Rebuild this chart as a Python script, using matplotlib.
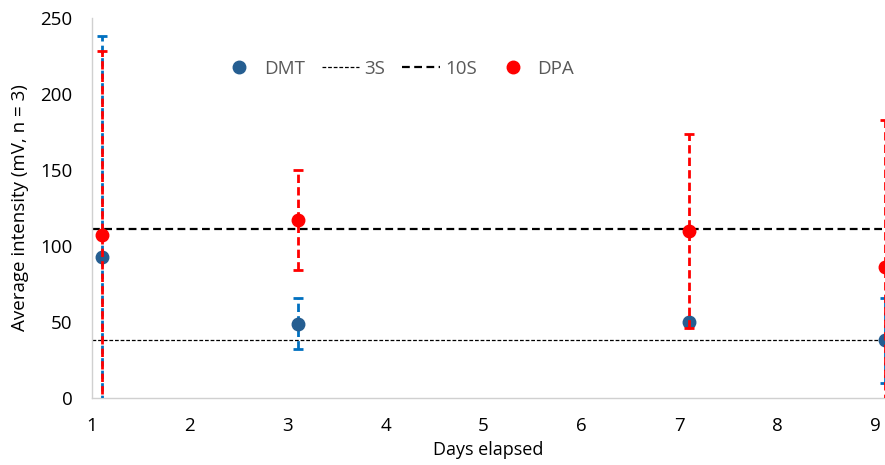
import matplotlib.pyplot as plt
from matplotlib.lines import Line2D

# days elapsed (points offset slightly from whole days as in the original)
days = [1.1, 3.1, 7.1, 9.1]

dmt_mean = [93, 49, 50, 38]
dmt_err = [145, 16.5, 1, 28]

dpa_mean = [107, 117, 110, 86]
dpa_err = [121, 33, 64, 97]

limit_3s = 38
limit_10s = 111

plt.rcParams['font.family'] = ['Open Sans', 'DejaVu Sans']

fig = plt.figure(figsize=(8.85, 4.65), dpi=100)
ax = fig.add_axes([92 / 885, 1 - 398 / 465, 1 - 92 / 885, 380 / 465])

# threshold lines
ax.axhline(limit_3s, color='black', linestyle=(0, (3, 1.5)), linewidth=0.9, zorder=1)
ax.axhline(limit_10s, color='black', linestyle=(0, (3.5, 2)), linewidth=1.6, zorder=1)

eb1 = ax.errorbar(days, dmt_mean, yerr=dmt_err, fmt='o', color='#255E91',
                  ecolor='#0070C0', elinewidth=2, capsize=3.5, capthick=2,
                  markersize=9, zorder=3)
eb1[2][0].set_linestyle((0, (3, 1.5)))

eb2 = ax.errorbar(days, dpa_mean, yerr=dpa_err, fmt='o', color='#FF0000',
                  ecolor='#FF0000', elinewidth=2, capsize=3.5, capthick=2,
                  markersize=9, zorder=4)
eb2[2][0].set_linestyle((0, (3, 1.5)))

ax.set_xlim(1, 9.1)
ax.set_ylim(0, 250)
ax.set_xticks(range(1, 10))
ax.set_yticks(range(0, 251, 50))
ax.tick_params(length=0, labelsize=13.5)
ax.tick_params(axis='y', pad=14)
ax.tick_params(axis='x', pad=14)

for s in ['top', 'right']:
    ax.spines[s].set_visible(False)
for s in ['left', 'bottom']:
    ax.spines[s].set_color('#D0D0D0')
    ax.spines[s].set_linewidth(1)

ax.set_xlabel('Days elapsed', fontsize=13, labelpad=4)
ax.set_ylabel('Average intensity (mV, n = 3)', fontsize=13.5, labelpad=8)

handles = [
    Line2D([], [], marker='o', linestyle='none', color='#255E91', markersize=9),
    Line2D([], [], color='black', linestyle=(0, (3, 1.5)), linewidth=0.9),
    Line2D([], [], color='black', linestyle=(0, (3.5, 2)), linewidth=1.6),
    Line2D([], [], marker='o', linestyle='none', color='#FF0000', markersize=9),
]
labels = ['DMT', '3S', '10S', 'DPA']
leg = ax.legend(handles, labels, ncol=4, frameon=False, fontsize=13.5,
                loc='center', bbox_to_anchor=(0.385, 0.866),
                handlelength=2.0, columnspacing=0.9, handletextpad=0.3)
for t in leg.get_texts():
    t.set_color('#595959')

fig.savefig('out.png', dpi=100)
